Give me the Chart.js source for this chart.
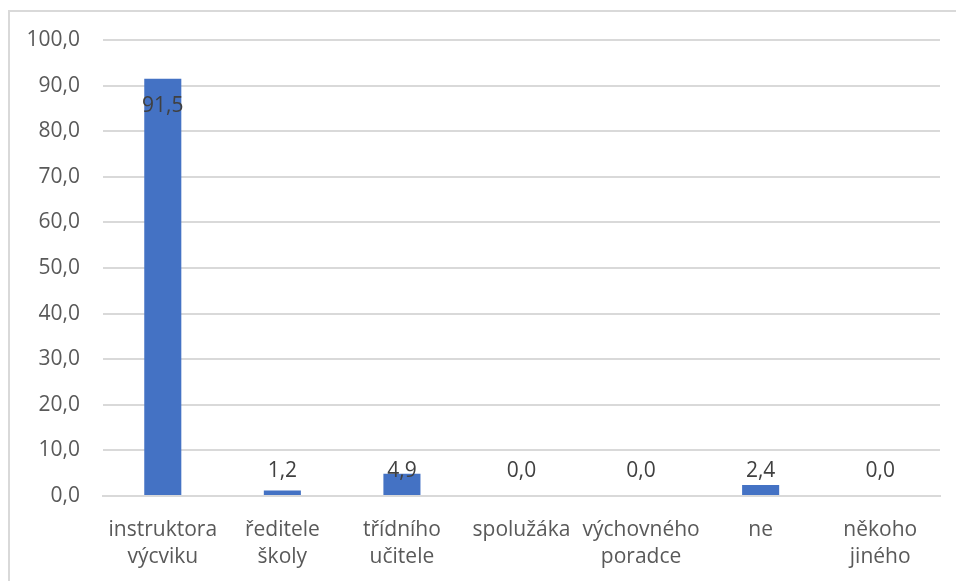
<!DOCTYPE html>
<html>
<head>
<meta charset="utf-8">
<script src="https://cdn.jsdelivr.net/npm/chart.js@4/dist/chart.umd.min.js"></script>
<style>
  html, body { margin: 0; padding: 0; background: #fff; }
  #wrap { position: relative; width: 956px; height: 581px; overflow: hidden; }
  #frame {
    position: absolute; left: 8px; top: 10px; width: 1000px; height: 700px;
    border-left: 2px solid #d9d9d9; border-top: 2px solid #d9d9d9;
  }
  canvas { position: absolute; left: 0; top: 0; }
</style>
</head>
<body>
<div id="wrap">
  <div id="frame"></div>
  <canvas id="chart" width="956" height="581"></canvas>
</div>
<script>
// categories (two-line labels) and percentages
const categories = [
  ['instruktora', 'výcviku'],
  ['ředitele', 'školy'],
  ['třídního', 'učitele'],
  ['spolužáka'],
  ['výchovného', 'poradce'],
  ['ne'],
  ['někoho', 'jiného']
];
const values = [91.5, 1.2, 4.9, 0.0, 0.0, 2.4, 0.0];
const yTicks = [0, 10, 20, 30, 40, 50, 60, 70, 80, 90, 100];

const FONT = "'Open Sans', 'Liberation Sans', sans-serif";
const fmt = v => v.toFixed(1).replace('.', ',');

// value labels like Excel's data labels
const barLabels = {
  id: 'barLabels',
  afterDatasetsDraw(chart) {
    const ctx = chart.ctx;
    const meta = chart.getDatasetMeta(0);
    const yScale = chart.scales.y;
    ctx.save();
    ctx.font = '21px ' + FONT;
    ctx.fillStyle = '#404040';
    ctx.textAlign = 'center';
    ctx.textBaseline = 'middle';
    meta.data.forEach((bar, i) => {
      const v = values[i];
      let y;
      if (v >= 10) y = bar.y + 27;
      else y = yScale.getPixelForValue(0) - 25;
      ctx.fillText(fmt(v), bar.x, y);
    });
    ctx.restore();
  }
};

new Chart(document.getElementById('chart'), {
  type: 'bar',
  data: {
    labels: categories,
    datasets: [{
      data: values,
      backgroundColor: '#4472C4',
      borderWidth: 0,
      categoryPercentage: 1,
      barPercentage: 0.31
    }]
  },
  options: {
    responsive: false,
    animation: false,
    layout: { padding: { left: 0, right: 16, top: 40, bottom: 0 } },
    plugins: {
      legend: { display: false },
      tooltip: { enabled: false }
    },
    scales: {
      x: {
        grid: { display: false, drawTicks: false },
        border: { display: true, color: '#d9d9d9', width: 2 },
        ticks: {
          color: '#595959',
          font: { family: FONT, size: 21, lineHeight: 1.3 },
          padding: 20,
          maxRotation: 0,
          autoSkip: false
        },
        afterFit(scale) { scale.height = 85; }
      },
      y: {
        min: 0,
        max: 100,
        afterBuildTicks(scale) { scale.ticks = yTicks.map(v => ({ value: v })); },
        grid: { color: '#d9d9d9', lineWidth: 2, drawTicks: false },
        border: { display: false },
        ticks: {
          color: '#595959',
          font: { family: FONT, size: 21 },
          padding: 23,
          callback: v => fmt(v)
        },
        afterFit(scale) { scale.width = 103; }
      }
    }
  },
  plugins: [barLabels]
});
</script>
</body>
</html>
